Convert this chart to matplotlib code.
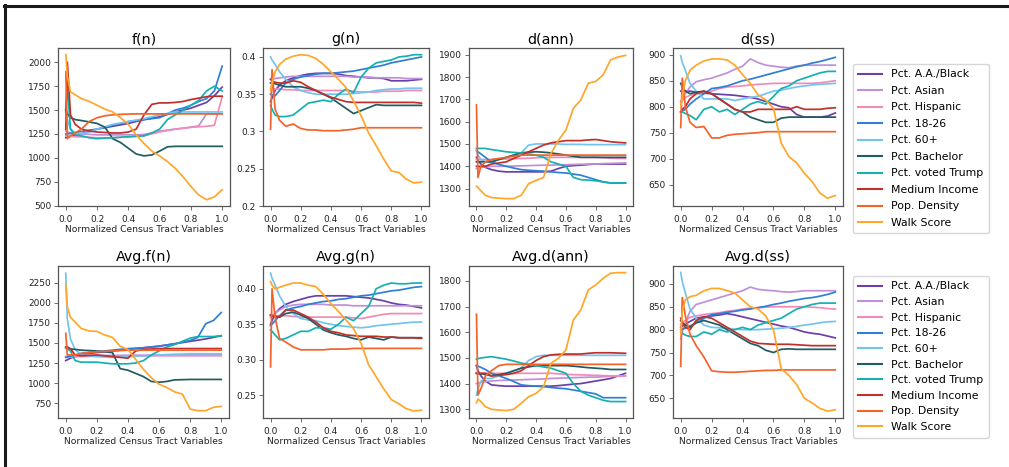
import matplotlib
matplotlib.use('Agg')
import matplotlib.pyplot as plt
from matplotlib.lines import Line2D

# ---------------- data ----------------
X = [0, 0.01, 0.03, 0.06, 0.1, 0.15, 0.2, 0.25, 0.3, 0.35, 0.4, 0.45, 0.5,
     0.55, 0.6, 0.65, 0.7, 0.75, 0.8, 0.85, 0.9, 0.95, 1.0]

SERIES = ["Pct. A.A./Black", "Pct. Asian", "Pct. Hispanic", "Pct. 18-26", "Pct. 60+",
          "Pct. Bachelor", "Pct. voted Trump", "Medium Income", "Pop. Density", "Walk Score"]

COLORS = ["#6a3fa8", "#c08fd8", "#f28ab8", "#2f7fd6", "#72c4f0",
          "#1f5c63", "#16b0b0", "#c0302a", "#f4632a", "#ffa62b"]

TITLES = ["f(n)", "g(n)", "d(ann)", "d(ss)", "Avg.f(n)", "Avg.g(n)", "Avg.d(ann)", "Avg.d(ss)"]

XTICKS = [0.0, 0.2, 0.4, 0.6, 0.8, 1.0]
XTICKLABELS = ["0.0", "0.2", "0.4", "0.6", "0.8", "1.0"]

F_N = [
    [1210,1215,1225,1240,1250,1275,1300,1315,1330,1345,1360,1380,1400,1415,1430,1455,1480,1500,1520,1550,1580,1650,1740],
    [1280,1270,1260,1250,1250,1245,1240,1240,1240,1240,1240,1240,1245,1260,1280,1290,1300,1310,1320,1335,1460,1460,1460],
    [1230,1230,1225,1220,1220,1215,1210,1210,1210,1215,1220,1225,1230,1250,1270,1285,1300,1310,1320,1325,1330,1340,1640],
    [1250,1250,1255,1265,1275,1290,1300,1320,1340,1360,1380,1390,1400,1410,1420,1460,1500,1520,1550,1590,1620,1700,1960],
    [1500,1400,1300,1260,1250,1270,1300,1325,1350,1365,1380,1395,1410,1430,1450,1465,1480,1480,1480,1480,1480,1480,1480],
    [1500,1460,1420,1400,1390,1375,1360,1320,1200,1160,1100,1040,1020,1030,1070,1115,1120,1120,1120,1120,1120,1120,1120],
    [1520,1750,1300,1240,1230,1210,1200,1205,1210,1215,1220,1225,1230,1260,1300,1400,1450,1500,1550,1600,1700,1750,1700],
    [1300,2000,1450,1350,1300,1280,1270,1265,1260,1260,1270,1300,1450,1560,1575,1575,1580,1590,1610,1625,1640,1645,1645],
    [1900,1200,1230,1260,1300,1380,1420,1440,1450,1455,1458,1460,1460,1460,1460,1460,1460,1460,1460,1460,1460,1460,1460],
    [2080,1850,1690,1660,1620,1590,1550,1510,1480,1420,1350,1240,1150,1070,1020,960,890,800,700,610,560,590,665],
]

G_N = [
    [0.340,0.345,0.355,0.362,0.368,0.372,0.375,0.377,0.378,0.378,0.378,0.377,0.375,0.374,0.373,0.372,0.372,0.371,0.368,0.368,0.368,0.369,0.370],
    [0.370,0.370,0.371,0.372,0.373,0.374,0.374,0.374,0.374,0.374,0.374,0.374,0.374,0.373,0.373,0.373,0.372,0.372,0.372,0.372,0.371,0.371,0.371],
    [0.358,0.358,0.357,0.357,0.356,0.356,0.355,0.355,0.355,0.355,0.355,0.355,0.355,0.354,0.353,0.353,0.353,0.354,0.354,0.354,0.355,0.355,0.355],
    [0.350,0.349,0.348,0.355,0.365,0.370,0.373,0.375,0.377,0.378,0.378,0.379,0.380,0.381,0.383,0.385,0.387,0.389,0.392,0.394,0.396,0.398,0.400],
    [0.400,0.396,0.390,0.380,0.370,0.360,0.355,0.352,0.350,0.350,0.350,0.350,0.350,0.351,0.352,0.353,0.355,0.356,0.357,0.357,0.358,0.358,0.358],
    [0.365,0.365,0.364,0.362,0.360,0.360,0.360,0.358,0.355,0.350,0.345,0.338,0.331,0.324,0.328,0.332,0.336,0.335,0.335,0.335,0.335,0.335,0.335],
    [0.335,0.330,0.322,0.320,0.320,0.322,0.330,0.338,0.340,0.342,0.340,0.350,0.357,0.352,0.373,0.385,0.392,0.394,0.396,0.400,0.401,0.403,0.403],
    [0.370,0.368,0.366,0.365,0.365,0.368,0.366,0.360,0.355,0.350,0.346,0.343,0.340,0.339,0.339,0.339,0.339,0.339,0.339,0.339,0.339,0.339,0.338],
    [0.303,0.383,0.330,0.315,0.307,0.310,0.304,0.302,0.302,0.301,0.301,0.301,0.302,0.303,0.305,0.305,0.305,0.305,0.305,0.305,0.305,0.305,0.305],
    [0.355,0.365,0.380,0.390,0.397,0.401,0.403,0.402,0.398,0.390,0.380,0.370,0.359,0.341,0.321,0.298,0.281,0.263,0.247,0.245,0.236,0.231,0.232],
]

D_ANN = [
    [1440,1425,1410,1395,1385,1378,1375,1375,1375,1375,1375,1375,1378,1390,1400,1403,1405,1408,1410,1410,1410,1410,1410],
    [1390,1392,1395,1398,1400,1400,1400,1401,1402,1403,1404,1405,1405,1406,1407,1408,1409,1410,1410,1412,1413,1414,1415],
    [1430,1430,1430,1430,1430,1432,1433,1434,1435,1436,1438,1440,1440,1440,1440,1440,1440,1440,1440,1438,1436,1435,1435],
    [1470,1465,1455,1440,1420,1408,1400,1392,1385,1382,1380,1378,1375,1372,1370,1365,1360,1350,1340,1330,1325,1325,1325],
    [1470,1450,1430,1420,1420,1430,1440,1450,1460,1495,1500,1500,1500,1500,1498,1498,1498,1497,1497,1497,1497,1497,1497],
    [1420,1420,1420,1420,1420,1430,1440,1450,1460,1463,1465,1463,1460,1455,1450,1445,1440,1440,1440,1440,1440,1440,1440],
    [1480,1480,1480,1480,1475,1470,1465,1462,1460,1455,1450,1440,1420,1410,1400,1350,1340,1338,1335,1330,1325,1325,1325],
    [1400,1400,1400,1400,1410,1415,1420,1435,1450,1465,1480,1495,1505,1510,1515,1515,1515,1518,1520,1515,1510,1507,1505],
    [1675,1350,1400,1420,1430,1435,1440,1445,1450,1450,1450,1450,1450,1450,1450,1450,1450,1450,1450,1450,1450,1450,1450],
    [1310,1305,1290,1270,1260,1257,1255,1255,1270,1322,1337,1350,1457,1517,1562,1660,1697,1772,1780,1810,1877,1890,1897],
]

D_SS = [
    [830,830,830,830,828,826,825,824,823,822,820,818,815,810,805,800,798,785,780,780,780,782,788],
    [810,815,825,838,848,852,855,860,865,872,878,892,885,880,878,876,875,878,880,880,880,880,880],
    [810,812,818,822,825,828,830,835,838,839,840,842,843,844,845,845,845,845,845,845,846,848,850],
    [790,792,795,805,815,825,835,837,840,845,850,853,857,861,865,869,873,877,880,884,887,891,895],
    [898,885,870,845,830,815,815,815,815,812,815,818,820,825,830,832,835,838,840,842,843,844,845],
    [845,838,830,825,828,830,825,815,805,795,790,780,775,770,770,778,780,780,780,780,780,780,780],
    [790,790,787,783,775,795,800,790,795,785,795,805,810,805,820,835,840,850,855,860,865,868,868],
    [790,795,800,815,825,830,825,815,805,795,790,790,795,795,795,795,795,800,795,795,795,797,798],
    [760,855,800,770,760,762,740,740,745,747,748,749,750,752,752,752,752,752,752,752,752,752,752],
    [800,820,850,870,880,888,892,892,890,880,862,845,823,813,797,730,704,692,672,656,634,624,629],
]

AVG_F_N = [
    [1280,1290,1310,1330,1360,1370,1380,1390,1400,1410,1420,1430,1440,1450,1460,1475,1490,1505,1520,1535,1550,1570,1590],
    [1330,1332,1335,1338,1340,1342,1344,1345,1345,1346,1347,1348,1348,1349,1349,1350,1350,1350,1350,1350,1350,1350,1350],
    [1320,1322,1325,1328,1330,1332,1334,1335,1335,1336,1337,1338,1338,1339,1340,1340,1340,1340,1340,1340,1340,1340,1340],
    [1320,1325,1335,1350,1370,1380,1390,1400,1410,1420,1430,1435,1440,1450,1460,1475,1490,1510,1530,1570,1740,1780,1880],
    [2370,1800,1550,1420,1350,1340,1330,1325,1320,1325,1330,1335,1340,1345,1350,1355,1360,1362,1365,1365,1365,1365,1365],
    [1440,1430,1425,1420,1410,1405,1400,1390,1380,1180,1160,1120,1080,1020,1010,1020,1040,1042,1045,1045,1045,1045,1045],
    [1450,1430,1400,1280,1260,1260,1260,1250,1240,1240,1240,1250,1280,1350,1400,1450,1480,1520,1560,1580,1580,1580,1590],
    [1450,1450,1430,1350,1340,1345,1350,1340,1330,1320,1310,1400,1420,1425,1430,1430,1430,1430,1430,1430,1430,1430,1430],
    [1620,1350,1350,1350,1370,1380,1390,1395,1400,1405,1410,1410,1410,1410,1410,1410,1410,1410,1410,1410,1410,1410,1410],
    [2230,1950,1820,1760,1680,1650,1644,1600,1570,1459,1418,1294,1170,1067,985,944,890,862,676,655,655,697,709],
]

AVG_G_N = [
    [0.350,0.355,0.365,0.372,0.378,0.382,0.385,0.388,0.390,0.390,0.390,0.390,0.390,0.389,0.388,0.387,0.385,0.383,0.380,0.378,0.377,0.375,0.373],
    [0.360,0.362,0.366,0.370,0.375,0.377,0.378,0.378,0.378,0.378,0.377,0.377,0.377,0.376,0.376,0.376,0.376,0.376,0.376,0.376,0.376,0.376,0.376],
    [0.362,0.362,0.362,0.362,0.362,0.361,0.360,0.360,0.360,0.360,0.360,0.360,0.360,0.359,0.358,0.360,0.362,0.364,0.365,0.365,0.365,0.365,0.365],
    [0.348,0.350,0.355,0.362,0.370,0.373,0.375,0.378,0.380,0.382,0.383,0.385,0.386,0.388,0.390,0.391,0.393,0.395,0.397,0.398,0.400,0.402,0.403],
    [0.422,0.415,0.405,0.390,0.375,0.365,0.358,0.356,0.355,0.352,0.350,0.348,0.347,0.346,0.345,0.346,0.348,0.349,0.350,0.351,0.352,0.353,0.353],
    [0.363,0.362,0.361,0.360,0.365,0.367,0.363,0.358,0.350,0.342,0.338,0.335,0.333,0.330,0.328,0.332,0.330,0.328,0.332,0.331,0.331,0.331,0.331],
    [0.342,0.340,0.335,0.328,0.330,0.335,0.340,0.340,0.345,0.345,0.343,0.350,0.360,0.355,0.365,0.375,0.400,0.405,0.408,0.407,0.407,0.408,0.408],
    [0.363,0.362,0.361,0.360,0.370,0.370,0.365,0.360,0.353,0.345,0.340,0.338,0.335,0.334,0.333,0.333,0.333,0.332,0.332,0.331,0.331,0.331,0.330],
    [0.290,0.400,0.360,0.330,0.325,0.318,0.314,0.314,0.314,0.314,0.315,0.315,0.315,0.316,0.316,0.316,0.316,0.316,0.316,0.316,0.316,0.316,0.316],
    [0.410,0.405,0.400,0.402,0.405,0.408,0.408,0.405,0.403,0.392,0.379,0.368,0.356,0.344,0.323,0.293,0.276,0.259,0.244,0.238,0.231,0.228,0.229],
]

AVG_D_ANN = [
    [1470,1450,1430,1410,1395,1392,1390,1390,1390,1390,1390,1390,1390,1392,1395,1398,1400,1405,1410,1415,1420,1430,1440],
    [1400,1402,1405,1408,1410,1412,1413,1414,1415,1416,1417,1418,1420,1421,1422,1423,1424,1425,1425,1427,1428,1429,1430],
    [1440,1440,1440,1440,1440,1440,1440,1440,1440,1440,1440,1440,1440,1438,1436,1435,1434,1433,1432,1431,1430,1430,1430],
    [1470,1468,1463,1455,1440,1430,1420,1408,1395,1392,1390,1388,1385,1382,1380,1375,1370,1365,1360,1345,1345,1345,1345],
    [1355,1380,1410,1420,1420,1430,1440,1450,1460,1490,1505,1510,1510,1510,1510,1510,1510,1510,1510,1510,1510,1510,1510],
    [1440,1440,1438,1436,1430,1435,1440,1450,1460,1465,1470,1470,1470,1470,1470,1468,1465,1462,1460,1458,1455,1455,1455],
    [1495,1497,1500,1502,1505,1500,1495,1488,1480,1475,1470,1465,1460,1450,1440,1400,1370,1355,1345,1335,1330,1330,1330],
    [1440,1440,1440,1440,1430,1432,1435,1440,1450,1470,1490,1505,1512,1514,1515,1515,1515,1518,1520,1520,1520,1519,1518],
    [1670,1355,1380,1430,1450,1470,1475,1475,1475,1475,1475,1475,1475,1475,1475,1475,1475,1475,1475,1475,1475,1475,1475],
    [1325,1340,1330,1310,1300,1297,1295,1300,1323,1349,1362,1388,1479,1499,1531,1648,1687,1765,1784,1810,1830,1832,1832],
]

AVG_D_SS = [
    [805,808,812,818,825,828,830,832,835,832,828,824,820,816,812,808,805,800,795,792,790,786,782],
    [780,795,815,840,855,860,865,870,875,880,885,893,888,886,885,883,882,883,885,885,885,885,885],
    [810,815,820,827,830,833,835,837,840,842,845,847,848,849,850,850,850,850,850,849,848,846,845],
    [800,801,803,808,815,825,833,835,838,840,843,845,848,851,855,858,862,865,868,870,873,877,882],
    [925,905,880,845,825,810,805,804,803,801,800,800,800,801,802,803,805,807,810,812,815,817,818],
    [820,815,810,805,815,820,815,810,800,790,780,770,765,755,750,757,758,757,757,757,757,757,757],
    [795,792,788,785,785,795,790,800,795,800,805,800,810,815,820,825,835,845,850,855,858,858,858],
    [825,815,805,800,820,828,825,815,805,795,785,775,770,769,768,768,768,767,766,765,765,765,765],
    [720,870,830,790,765,740,710,708,707,707,708,709,710,711,711,712,712,712,712,712,712,712,712],
    [790,840,865,872,875,885,890,890,885,880,865,850,845,830,800,715,700,680,650,640,628,622,625],
]

PANEL_DATA = [F_N, G_N, D_ANN, D_SS, AVG_F_N, AVG_G_N, AVG_D_ANN, AVG_D_SS]

YTICKS = [
    [500, 750, 1000, 1250, 1500, 1750, 2000],
    [0.2, 0.25, 0.3, 0.35, 0.4],
    [1300, 1400, 1500, 1600, 1700, 1800, 1900],
    [650, 700, 750, 800, 850, 900],
    [750, 1000, 1250, 1500, 1750, 2000, 2250],
    [0.25, 0.30, 0.35, 0.40],
    [1300, 1400, 1500, 1600, 1700, 1800],
    [650, 700, 750, 800, 850, 900],
]
YTICKLABELS = [
    ["500", "750", "1000", "1250", "1500", "1750", "2000"],
    ["0.2", "0.25", "0.3", "0.35", "0.4"],
    ["1300", "1400", "1500", "1600", "1700", "1800", "1900"],
    ["650", "700", "750", "800", "850", "900"],
    ["750", "1000", "1250", "1500", "1750", "2000", "2250"],
    ["0.25", "0.30", "0.35", "0.40"],
    ["1300", "1400", "1500", "1600", "1700", "1800"],
    ["650", "700", "750", "800", "850", "900"],
]

# ---------------- layout ----------------
W, H = 1009, 467
fig = plt.figure(figsize=(W / 100, H / 100), dpi=100)
fig.patch.set_facecolor("white")

# axes boxes in pixels: left, top, right, bottom
BOXES = [
    (58, 48, 230, 206), (263, 48, 429, 206), (469, 48, 633, 206), (673, 48, 843, 206),
    (58, 266, 229, 418), (263, 266, 429, 418), (469, 266, 633, 418), (673, 266, 843, 418),
]
YLIMS = [(495, 2150), (0.2, 0.412), (1222, 1930), (609, 913),
         (564, 2460), (0.218, 0.432), (1266, 1858), (607, 939)]

SPINE = "#555555"
for i, (title, data) in enumerate(zip(TITLES, PANEL_DATA)):
    l, t, r, b = BOXES[i]
    ax = fig.add_axes([l / W, 1 - b / H, (r - l) / W, (b - t) / H])
    for series, color, label in zip(data, COLORS, SERIES):
        ax.plot(X, series, color=color, lw=1.25, label=label)
    ax.set_xlim(-0.05, 1.05)
    ax.set_ylim(*YLIMS[i])
    ax.set_xticks(XTICKS)
    ax.set_xticklabels(XTICKLABELS)
    ax.set_yticks(YTICKS[i])
    ax.set_yticklabels(YTICKLABELS[i])
    ax.tick_params(axis="both", labelsize=6.5, length=3, width=0.6, color=SPINE, labelcolor="#222222")
    ax.tick_params(axis="x", pad=3.2)
    ax.tick_params(axis="y", pad=2)
    for sp in ax.spines.values():
        sp.set_color(SPINE)
        sp.set_linewidth(0.9)
    ax.set_title(title, fontsize=10.3, pad=3.5)
    ax.set_xlabel("Normalized Census Tract Variables", fontsize=6.6, labelpad=1, color="#222222")

handles = [Line2D([], [], color=c, lw=1.5) for c in COLORS]
for top, sp in [(64, 0.6), (276, 0.52)]:
    fig.legend(handles, SERIES, loc="upper left", bbox_to_anchor=(853 / W, 1 - top / H),
               borderaxespad=0, fontsize=7.8, labelspacing=sp, handlelength=2.2,
               handletextpad=0.8, borderpad=0.5, frameon=True, edgecolor="#cccccc")

# outer frame (top and left edges)
fig.add_artist(Line2D([4 / W, 1008 / W], [1 - 5.5 / H, 1 - 5.5 / H], transform=fig.transFigure,
                      color="#1a1a1a", lw=2.2))
fig.add_artist(Line2D([5 / W, 5 / W], [1 - 5 / H, 0], transform=fig.transFigure,
                      color="#1a1a1a", lw=2.2))

fig.savefig("out.png", dpi=100, facecolor="white")
